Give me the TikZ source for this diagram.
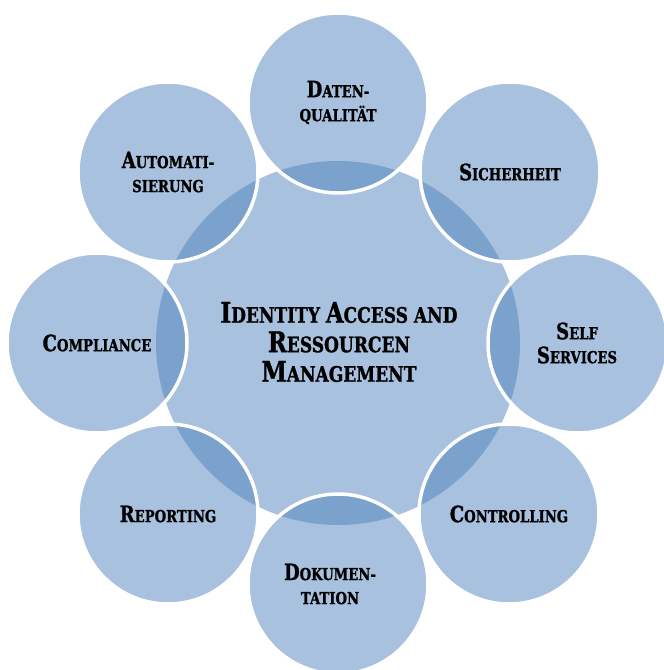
\documentclass[tikz,border=0pt]{standalone}
\usepackage{fontspec}
\newfontfamily\cf{DejaVu Serif}[FakeStretch=0.8, BoldFeatures={FakeBold=1.2}]
\definecolor{lightb}{HTML}{A8C1DF}
\definecolor{darkb}{HTML}{7BA1CD}
\newcommand\Bo[1]{{\fontsize{22.5}{24}\selectfont #1}}
\newcommand\Bc[1]{{\fontsize{28.5}{29}\selectfont #1}}
\tikzset{
  outertext/.style={align=center, text=black, font=\cf\bfseries\fontsize{16.5}{24}\selectfont, inner sep=0pt},
  centertext/.style={align=center, text=black, font=\cf\bfseries\fontsize{21.3}{29.5}\selectfont, inner sep=0pt},
}
\begin{document}
\begin{tikzpicture}[x=1pt,y=-1pt]
\useasboundingbox (0,0) rectangle (664,670);
\coordinate (c) at (338,343);
\fill[lightb] (c) circle (182pt);
\foreach \n/\x/\y in {dq/338/103, si/510/172, ss/578/343, co/509/514, do/338/584, re/168/514, cm/97/343, au/168/172}{
  \coordinate (\n) at (\x,\y);
  \fill[lightb] (\n) circle (90pt);
  \begin{scope}
    \clip (\n) circle (90pt);
    \fill[darkb] (c) circle (182pt);
  \end{scope}
  \draw[white, line width=3.5pt] (\n) circle (90pt);
}
\node[centertext] (tc) at (339,342) {\Bc{I}DENTITY \Bc{A}CCESS AND\\\Bc{R}ESSOURCEN\\\Bc{M}ANAGEMENT};
\node[outertext] (tdq) at (338,102.5) {\Bo{D}ATEN-\\QUALITÄT};
\node[outertext] (tsi) at (510,172) {\Bo{S}ICHERHEIT};
\node[outertext] (tss) at (577,343) {\Bo{S}ELF\\\Bo{S}ERVICES};
\node[outertext] (tco) at (509,514) {\Bo{C}ONTROLLING};
\node[outertext] (tdo) at (330,584) {\Bo{D}OKUMEN-\\TATION};
\node[outertext] (tre) at (168,514) {\Bo{R}EPORTING};
\node[outertext] (tcm) at (97,343) {\Bo{C}OMPLIANCE};
\node[outertext] (tau) at (168,172) {\Bo{A}UTOMATI-\\SIERUNG};
\end{tikzpicture}
\end{document}
